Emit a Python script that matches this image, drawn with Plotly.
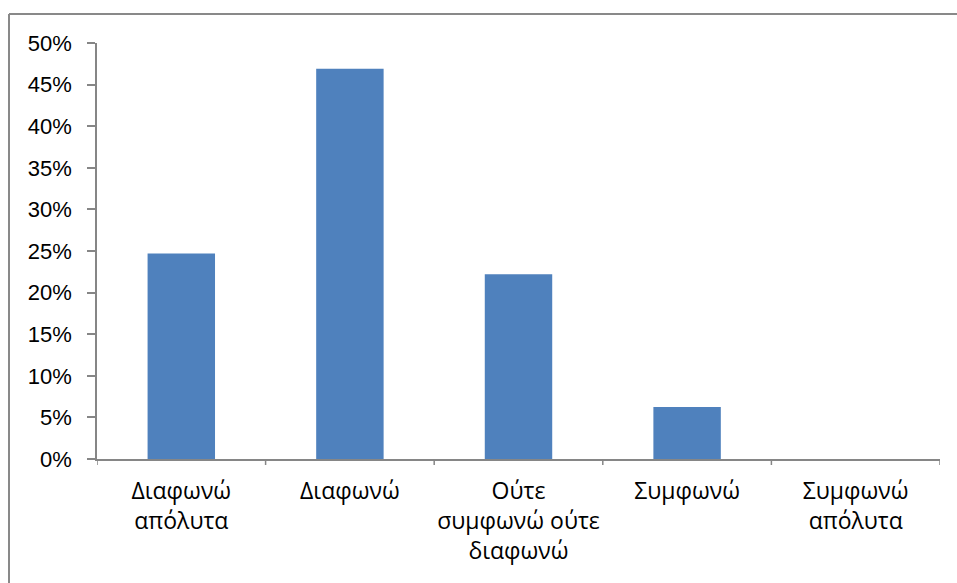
import plotly.graph_objects as go

categories = ["Διαφωνώ<br>απόλυτα", "Διαφωνώ", "Ούτε<br>συμφωνώ ούτε<br>διαφωνώ", "Συμφωνώ", "Συμφωνώ<br>απόλυτα"]
values = [0.247, 0.469, 0.222, 0.0625, 0.0]
y_ticks = [0, 0.05, 0.10, 0.15, 0.20, 0.25, 0.30, 0.35, 0.40, 0.45, 0.50]
y_tick_labels = ["0%", "5%", "10%", "15%", "20%", "25%", "30%", "35%", "40%", "45%", "50%"]

W, H = 957, 583
L, R, T, B = 97, 17, 43, 124
pw, ph = W - L - R, H - T - B

fig = go.Figure()

fig.add_trace(go.Bar(
    x=list(range(len(categories))), y=values,
    marker=dict(color="#4f81bd", line=dict(width=0)),
    hoverinfo="y"
))

axis_col = "#868686"
border_col = "#898989"

# outer chart border: only the left and top edges are inside the picture
fig.add_shape(type="line", xref="paper", yref="paper",
              x0=(9 - L) / pw, x1=(9 - L) / pw,
              y0=-(H + 5 - T - ph) / ph, y1=1 + (T - 14) / ph,
              line=dict(color=border_col, width=2))
fig.add_shape(type="line", xref="paper", yref="paper",
              x0=(9 - L) / pw, x1=(W + 5 - L) / pw,
              y0=1 + (T - 14) / ph, y1=1 + (T - 14) / ph,
              line=dict(color=border_col, width=2))

fig.update_layout(
    width=W, height=H,
    margin=dict(l=L, r=R, t=T, b=B, autoexpand=False),
    paper_bgcolor="white", plot_bgcolor="white",
    showlegend=False,
    bargap=0.6,
    xaxis=dict(
        range=[-0.5, 4.5], automargin=False,
        tickmode="array", tickvals=list(range(5)), ticktext=categories,
        showline=True, linecolor=axis_col, linewidth=1.5,
        ticks="", showgrid=False, zeroline=False,
        tickfont=dict(family="Open Sans", size=23, color="black"),
        ticklabelstandoff=11,
    ),
    yaxis=dict(
        range=[0, 0.5], automargin=False,
        tickmode="array", tickvals=y_ticks, ticktext=y_tick_labels,
        showline=True, linecolor=axis_col, linewidth=1.5,
        ticks="outside", ticklen=8, tickcolor=axis_col, tickwidth=1.5,
        showgrid=False, zeroline=False,
        tickfont=dict(family="Liberation Sans", size=22, color="black"),
        ticklabelstandoff=11,
    ),
)

# category boundary ticks on the x axis
for k in range(6):
    fig.add_shape(type="line", xref="x", yref="paper",
                  x0=k - 0.5, x1=k - 0.5, y0=0, y1=-6 / ph,
                  line=dict(color=axis_col, width=1.5))

# drop the browser's default body margin so the figure sits at the page origin
fig.write_html("out.html", config={"displayModeBar": False},
               post_script="document.body.style.margin='0';")
